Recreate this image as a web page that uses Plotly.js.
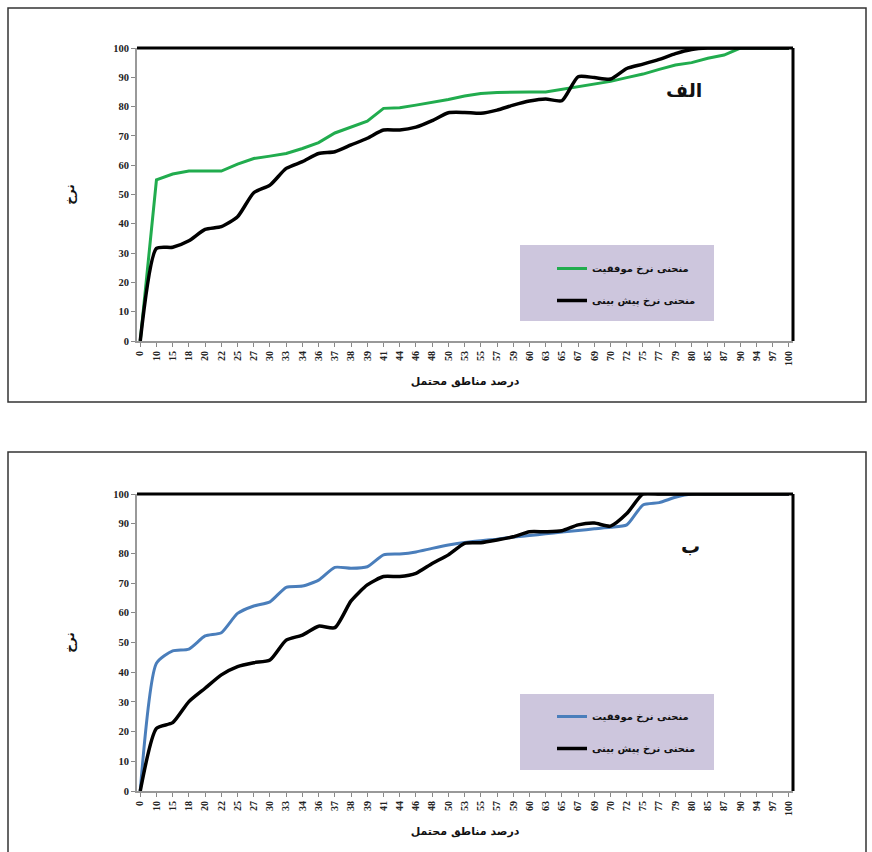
<!DOCTYPE html>
<html>
<head>
<meta charset="utf-8">
<script src="https://cdn.plot.ly/plotly-3.0.1.min.js"></script>
<style>html,body{margin:0;padding:0;background:#fff;}#chart{width:872px;height:852px;}</style>
</head>
<body>
<div id="chart"></div>
<script>
// Categories (percent of probable zones)
const categories = ['0','10','15','18','20','22','25','27','30','33','34','36','37','38','39','41','44','46','48','50','53','55','57','59','60','63','65','67','69','70','72','75','77','79','80','85','87','90','94','97','100'];

// Panel الف
const topSuccess = [0,55,57,58,58,58,60.4,62.3,63.1,64,65.7,67.7,71,73,75,79.4,79.6,80.5,81.4,82.4,83.6,84.5,84.8,85,85,85,85.9,86.8,87.7,88.6,89.9,91.1,92.7,94.2,95,96.5,97.6,100,100,100,100];
const topPredict = [0,31.6,32,34.2,38.1,39,42.4,50.6,53.2,58.9,61.2,64,64.6,66.9,69.2,72,72,73,75.2,77.9,78,77.7,78.8,80.5,81.9,82.6,82,90.2,89.9,89.4,93,94.5,96.1,98.1,99.5,100,100,100,100,100,100];

// Panel ب
const bottomSuccess = [0,43,47.2,47.8,52.2,53.3,59.8,62.3,63.7,68.6,69,71,75.3,75,75.5,79.5,79.8,80.5,81.7,82.8,83.7,84.3,84.8,85.5,86,86.6,87.2,87.7,88.3,88.8,89.6,96.3,97.1,98.9,100,100,100,100,100,100,100];
const bottomPredict = [0,21.1,23,30.1,34.6,39.1,41.9,43.2,44.1,50.8,52.5,55.5,55,64,69.4,72.2,72.2,73.3,76.6,79.5,83.4,83.6,84.5,85.6,87.3,87.3,87.6,89.6,90.2,89.2,93.4,100,100,100,100,100,100,100,100,100,100];

const yTicks = [0,10,20,30,40,50,60,70,80,90,100];

const nameSuccess = 'منحنی نرخ موفقیت';
const namePredict = 'منحنی نرخ پیش بینی';
const yTitle = 'نرخ';
const xTitle = 'درصد مناطق محتمل';

const W = 872, H = 852;
const px = v => v / W;
const py = v => 1 - v / H;

const arFont = 'DejaVu Sans, Noto Sans, sans-serif';
const numFont = 'Liberation Serif, DejaVu Serif, serif';

const traces = [
  {x: categories, y: topSuccess, xaxis: 'x', yaxis: 'y', type: 'scatter', mode: 'lines', name: nameSuccess,
   line: {color: '#21ac4e', width: 3}, legend: 'legend', legendgroup: 'a1'},
  {x: categories, y: topPredict, xaxis: 'x', yaxis: 'y', type: 'scatter', mode: 'lines', name: namePredict,
   line: {color: '#000000', width: 3.5, shape: 'spline', smoothing: 0.6}, legend: 'legend', legendgroup: 'a2'},
  {x: categories, y: bottomSuccess, xaxis: 'x2', yaxis: 'y2', type: 'scatter', mode: 'lines', name: nameSuccess,
   line: {color: '#4a7ebb', width: 3, shape: 'spline', smoothing: 0.6}, legend: 'legend2', legendgroup: 'b1'},
  {x: categories, y: bottomPredict, xaxis: 'x2', yaxis: 'y2', type: 'scatter', mode: 'lines', name: namePredict,
   line: {color: '#000000', width: 3.5, shape: 'spline', smoothing: 0.6}, legend: 'legend2', legendgroup: 'b2'}
];

const xl = 137, xr = 793;
const top1 = 48, bot1 = 341;
const top2 = 494, bot2 = 791;

function xAxis(anchor) {
  return {
    type: 'category', domain: [px(xl), px(xr)], anchor: anchor,
    range: [-0.2, 40.25], tickangle: -90,
    tickfont: {family: numFont, size: 10, color: '#222', weight: 'bold'},
    ticks: 'outside', ticklen: 4, tickcolor: '#888', tickwidth: 1,
    showline: true, linecolor: '#999', linewidth: 2,
    showgrid: false, zeroline: false, automargin: false,
    title: {text: xTitle, font: {family: arFont, size: 11, color: '#111', weight: 'bold'}, standoff: 12}
  };
}
function yAxis(dom, anchor) {
  return {
    domain: dom, anchor: anchor, range: [0, 100], tickvals: yTicks, ticktext: yTicks.map(String),
    tickfont: {family: numFont, size: 10.5, color: '#222', weight: 'bold'},
    ticks: 'outside', ticklen: 4, tickcolor: '#888', tickwidth: 1,
    showline: true, linecolor: '#999', linewidth: 2,
    showgrid: false, zeroline: false, automargin: false,
    title: {text: yTitle, font: {family: arFont, size: 12, color: '#111', weight: 'bold'}, standoff: 36}
  };
}

const legendCommon = {
  bgcolor: 'rgba(0,0,0,0)', borderwidth: 0,
  font: {family: arFont, size: 10, color: '#111', weight: 'bold'},
  xanchor: 'left', yanchor: 'top', tracegroupgap: 13, itemwidth: 30, traceorder: 'grouped'
};

const shapes = [
  // outer frames
  {type: 'rect', xref: 'paper', yref: 'paper', x0: px(8), x1: px(866), y0: py(402), y1: py(8), line: {color: '#333', width: 1.5}},
  {type: 'rect', xref: 'paper', yref: 'paper', x0: px(8), x1: px(866), y0: -0.01, y1: py(452), line: {color: '#333', width: 1.5}},
  // legend boxes
  {type: 'rect', xref: 'paper', yref: 'paper', x0: px(520), x1: px(714), y0: py(321), y1: py(245), fillcolor: '#cdc6dd', line: {width: 0}, layer: 'below'},
  {type: 'rect', xref: 'paper', yref: 'paper', x0: px(520), x1: px(714), y0: py(770), y1: py(694), fillcolor: '#cdc6dd', line: {width: 0}, layer: 'below'},
  // plot-area top and right borders
  {type: 'line', xref: 'paper', yref: 'paper', x0: px(xl), x1: px(xr), y0: py(top1), y1: py(top1), line: {color: '#000', width: 3}},
  {type: 'line', xref: 'paper', yref: 'paper', x0: px(xr), x1: px(xr), y0: py(top1), y1: py(bot1), line: {color: '#000', width: 3}},
  {type: 'line', xref: 'paper', yref: 'paper', x0: px(xl), x1: px(xr), y0: py(top2), y1: py(top2), line: {color: '#000', width: 3}},
  {type: 'line', xref: 'paper', yref: 'paper', x0: px(xr), x1: px(xr), y0: py(top2), y1: py(bot2), line: {color: '#000', width: 3}}
];

const layout = {
  width: W, height: H, margin: {l: 0, r: 0, t: 0, b: 0},
  paper_bgcolor: '#fff', plot_bgcolor: '#fff',
  showlegend: true,
  xaxis: xAxis('y'),
  yaxis: yAxis([py(bot1), py(top1)], 'x'),
  xaxis2: xAxis('y2'),
  yaxis2: yAxis([py(bot2), py(top2)], 'x2'),
  legend: Object.assign({}, legendCommon, {x: px(552), y: py(254)}),
  legend2: Object.assign({}, legendCommon, {x: px(552), y: py(702)}),
  shapes: shapes,
  annotations: [
    {text: 'الف', xref: 'paper', yref: 'paper', x: px(684), y: py(90), xanchor: 'center', yanchor: 'middle', showarrow: false,
     font: {family: arFont, size: 19, color: '#111', weight: 'bold'}},
    {text: 'ب', xref: 'paper', yref: 'paper', x: px(690), y: py(546), xanchor: 'center', yanchor: 'middle', showarrow: false,
     font: {family: arFont, size: 19, color: '#111', weight: 'bold'}}
  ]
};

Plotly.newPlot('chart', traces, layout, {displayModeBar: false, staticPlot: true});
</script>
</body>
</html>
